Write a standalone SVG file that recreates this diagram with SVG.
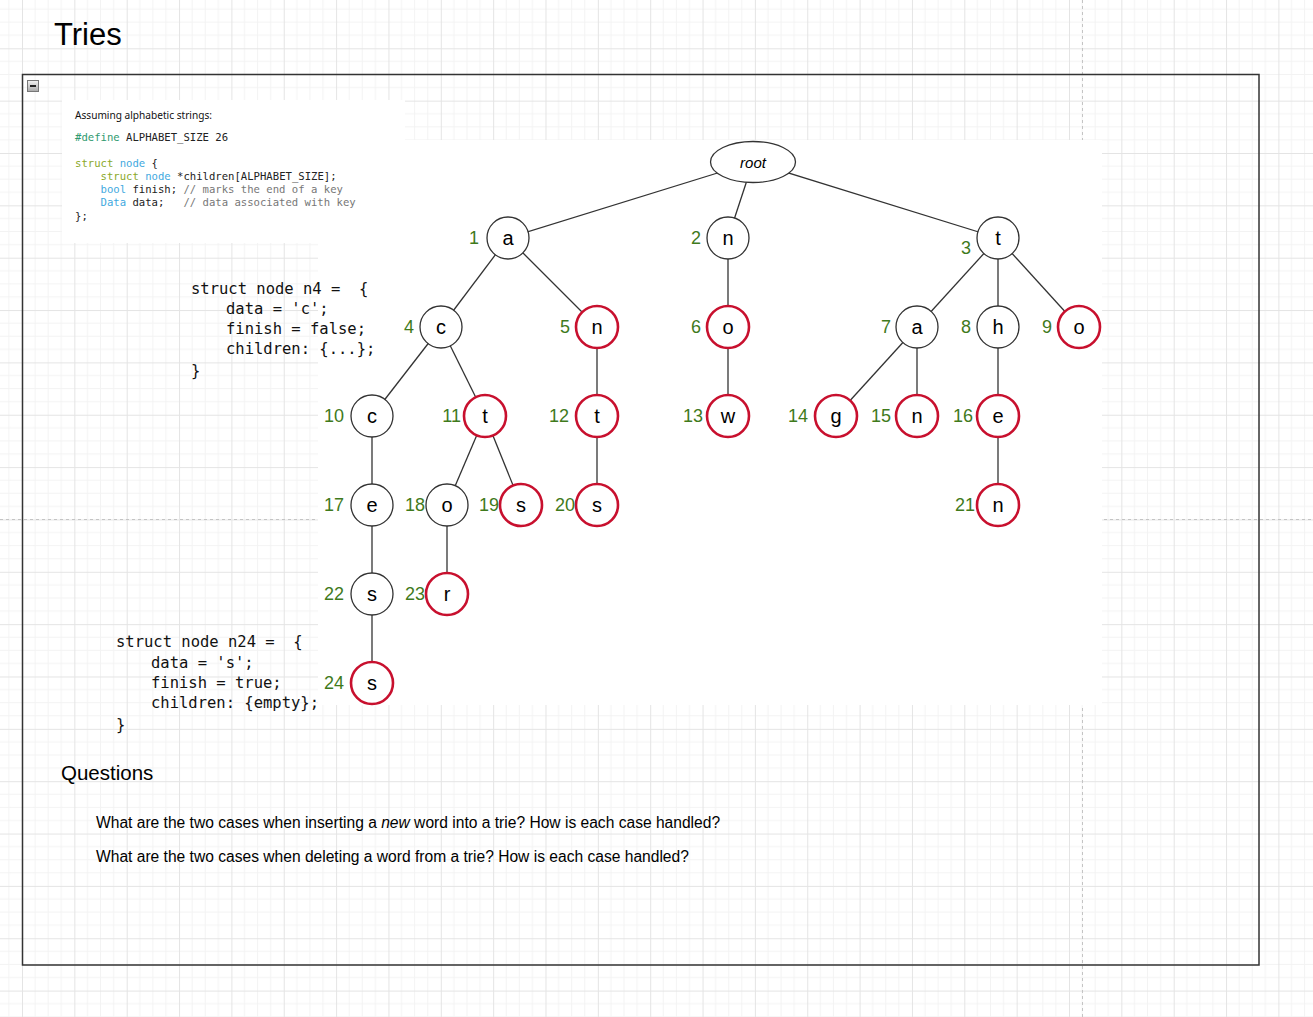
<svg xmlns="http://www.w3.org/2000/svg" width="1313" height="1017" viewBox="0 0 1313 1017">
<defs>
<pattern id="grid" patternUnits="userSpaceOnUse" x="22" y="48.3" width="52.35" height="52.35">
<path d="M13.09 0V52.35M26.18 0V52.35M39.26 0V52.35M0 13.09H52.35M0 26.18H52.35M0 39.26H52.35" stroke="#f3f3f3" stroke-width="1" fill="none"/>
<path d="M0.5 0V52.35M0 0.5H52.35" stroke="#e4e4e4" stroke-width="1" fill="none"/>
</pattern>
<linearGradient id="ig" x1="0" y1="0" x2="0" y2="1">
<stop offset="0" stop-color="#f4f4f4"/><stop offset="1" stop-color="#a8a8a8"/>
</linearGradient>
</defs>
<style>
.blk{fill:#fff;stroke:#333;stroke-width:1.3}
.red{fill:#fff;stroke:#c8102e;stroke-width:2.6}
.lt{font-family:"Liberation Sans",Arial,sans-serif;font-size:20px;fill:#000;text-anchor:middle}
.num{font-family:"Liberation Sans",Arial,sans-serif;font-size:18px;fill:#3f7a1c;text-anchor:end}
.edge line{stroke:#333;stroke-width:1.3}
.code{font-family:"DejaVu Sans Mono","Liberation Mono",monospace;font-size:10.6px;fill:#222;white-space:pre}
.kw{fill:#8aa82a}.ty{fill:#3fa9e0}.cm{fill:#777}.pp{fill:#2f9a6f}
.mono{font-family:"DejaVu Sans Mono","Liberation Mono",monospace;font-size:15.5px;fill:#111;white-space:pre}
.sans{font-family:"Liberation Sans",Arial,sans-serif;fill:#000}
</style>
<rect width="1313" height="1017" fill="#fff"/>
<rect width="1313" height="1017" fill="url(#grid)"/>
<g stroke="#c4c4c4" stroke-width="1" stroke-dasharray="3 3">
<line x1="0" y1="519.5" x2="1313" y2="519.5"/>
<line x1="1082.5" y1="0" x2="1082.5" y2="1017"/>
</g>
<rect x="318" y="140" width="784" height="565" fill="#fff"/>
<text class="sans" x="54" y="45" font-size="31">Tries</text>
<g id="container">
<rect x="22.5" y="74.5" width="1236.5" height="890.5" fill="none" stroke="#333" stroke-width="1.5"/>
<rect x="27.5" y="80.5" width="11" height="11" fill="url(#ig)" stroke="#777" stroke-width="1"/>
<rect x="30" y="85" width="6" height="2" fill="#222"/>
</g>
<g id="code-block">
<rect x="62" y="100" width="343" height="143" fill="#fff"/>
<text x="75" y="119" font-family="'Noto Sans','Open Sans',sans-serif" font-size="10" fill="#111" textLength="137" lengthAdjust="spacingAndGlyphs">Assuming alphabetic strings:</text>
<text class="code" x="75" y="141"><tspan class="pp">#define</tspan> ALPHABET_SIZE 26</text>
<text class="code" x="75" y="167"><tspan class="kw">struct</tspan> <tspan class="ty">node</tspan> {</text>
<text class="code" x="75" y="180">    <tspan class="kw">struct</tspan> <tspan class="ty">node</tspan> *children[ALPHABET_SIZE];</text>
<text class="code" x="75" y="193">    <tspan class="ty">bool</tspan> finish; <tspan class="cm">// marks the end of a key</tspan></text>
<text class="code" x="75" y="206">    <tspan class="ty">Data</tspan> data;   <tspan class="cm">// data associated with key</tspan></text>
<text class="code" x="75" y="220">};</text>
</g>
<g id="struct-n4">
<text class="mono" x="191" y="294">struct node n4 =  {</text>
<text class="mono" x="226" y="314">data = 'c';</text>
<text class="mono" x="226" y="334">finish = false;</text>
<text class="mono" x="226" y="354">children: {...};</text>
<text class="mono" x="191" y="376">}</text>
</g>
<g id="struct-n24">
<text class="mono" x="116" y="647">struct node n24 =  {</text>
<text class="mono" x="151" y="668">data = 's';</text>
<text class="mono" x="151" y="688">finish = true;</text>
<text class="mono" x="151" y="708">children: {empty};</text>
<text class="mono" x="116" y="730">}</text>
</g>
<g id="connectors" class="edge">
<line x1="753" y1="162" x2="508" y2="238"/>
<line x1="753" y1="162" x2="728" y2="238"/>
<line x1="753" y1="162" x2="998" y2="238"/>
<line x1="508" y1="238" x2="441" y2="327"/>
<line x1="508" y1="238" x2="597" y2="327"/>
<line x1="728" y1="238" x2="728" y2="327"/>
<line x1="998" y1="238" x2="917" y2="327"/>
<line x1="998" y1="238" x2="998" y2="327"/>
<line x1="998" y1="238" x2="1079" y2="327"/>
<line x1="441" y1="327" x2="372" y2="416"/>
<line x1="441" y1="327" x2="485" y2="416"/>
<line x1="597" y1="327" x2="597" y2="416"/>
<line x1="728" y1="327" x2="728" y2="416"/>
<line x1="917" y1="327" x2="836" y2="416"/>
<line x1="917" y1="327" x2="917" y2="416"/>
<line x1="998" y1="327" x2="998" y2="416"/>
<line x1="372" y1="416" x2="372" y2="505"/>
<line x1="485" y1="416" x2="447" y2="505"/>
<line x1="485" y1="416" x2="521" y2="505"/>
<line x1="597" y1="416" x2="597" y2="505"/>
<line x1="998" y1="416" x2="998" y2="505"/>
<line x1="372" y1="505" x2="372" y2="594"/>
<line x1="447" y1="505" x2="447" y2="594"/>
<line x1="372" y1="594" x2="372" y2="683"/>
</g>
<g id="root"><ellipse cx="753" cy="162" rx="42.5" ry="20.5" class="blk"/><text x="753" y="167.5" font-family="'Liberation Sans',Arial,sans-serif" font-size="15" font-style="italic" text-anchor="middle">root</text></g>
<g id="n1"><circle cx="508" cy="238" r="21" class="blk"/><text class="lt" x="508" y="245">a</text><text class="num" x="479" y="244">1</text></g>
<g id="n2"><circle cx="728" cy="238" r="21" class="blk"/><text class="lt" x="728" y="245">n</text><text class="num" x="701" y="244">2</text></g>
<g id="n3"><circle cx="998" cy="238" r="21" class="blk"/><text class="lt" x="998" y="245">t</text><text class="num" x="971" y="254">3</text></g>
<g id="n4"><circle cx="441" cy="327" r="21" class="blk"/><text class="lt" x="441" y="334">c</text><text class="num" x="414" y="333">4</text></g>
<g id="n5"><circle cx="597" cy="327" r="21" class="red"/><text class="lt" x="597" y="334">n</text><text class="num" x="570" y="333">5</text></g>
<g id="n6"><circle cx="728" cy="327" r="21" class="red"/><text class="lt" x="728" y="334">o</text><text class="num" x="701" y="333">6</text></g>
<g id="n7"><circle cx="917" cy="327" r="21" class="blk"/><text class="lt" x="917" y="334">a</text><text class="num" x="891" y="333">7</text></g>
<g id="n8"><circle cx="998" cy="327" r="21" class="blk"/><text class="lt" x="998" y="334">h</text><text class="num" x="971" y="333">8</text></g>
<g id="n9"><circle cx="1079" cy="327" r="21" class="red"/><text class="lt" x="1079" y="334">o</text><text class="num" x="1052" y="333">9</text></g>
<g id="n10"><circle cx="372" cy="416" r="21" class="blk"/><text class="lt" x="372" y="423">c</text><text class="num" x="344" y="422">10</text></g>
<g id="n11"><circle cx="485" cy="416" r="21" class="red"/><text class="lt" x="485" y="423">t</text><text class="num" x="461" y="422">11</text></g>
<g id="n12"><circle cx="597" cy="416" r="21" class="red"/><text class="lt" x="597" y="423">t</text><text class="num" x="569" y="422">12</text></g>
<g id="n13"><circle cx="728" cy="416" r="21" class="red"/><text class="lt" x="728" y="423">w</text><text class="num" x="703" y="422">13</text></g>
<g id="n14"><circle cx="836" cy="416" r="21" class="red"/><text class="lt" x="836" y="423">g</text><text class="num" x="808" y="422">14</text></g>
<g id="n15"><circle cx="917" cy="416" r="21" class="red"/><text class="lt" x="917" y="423">n</text><text class="num" x="891" y="422">15</text></g>
<g id="n16"><circle cx="998" cy="416" r="21" class="red"/><text class="lt" x="998" y="423">e</text><text class="num" x="973" y="422">16</text></g>
<g id="n17"><circle cx="372" cy="505" r="21" class="blk"/><text class="lt" x="372" y="512">e</text><text class="num" x="344" y="511">17</text></g>
<g id="n18"><circle cx="447" cy="505" r="21" class="blk"/><text class="lt" x="447" y="512">o</text><text class="num" x="425" y="511">18</text></g>
<g id="n19"><circle cx="521" cy="505" r="21" class="red"/><text class="lt" x="521" y="512">s</text><text class="num" x="499" y="511">19</text></g>
<g id="n20"><circle cx="597" cy="505" r="21" class="red"/><text class="lt" x="597" y="512">s</text><text class="num" x="575" y="511">20</text></g>
<g id="n21"><circle cx="998" cy="505" r="21" class="red"/><text class="lt" x="998" y="512">n</text><text class="num" x="975" y="511">21</text></g>
<g id="n22"><circle cx="372" cy="594" r="21" class="blk"/><text class="lt" x="372" y="601">s</text><text class="num" x="344" y="600">22</text></g>
<g id="n23"><circle cx="447" cy="594" r="21" class="red"/><text class="lt" x="447" y="601">r</text><text class="num" x="425" y="600">23</text></g>
<g id="n24"><circle cx="372" cy="683" r="21" class="red"/><text class="lt" x="372" y="690">s</text><text class="num" x="344" y="689">24</text></g>
<g id="questions">
<text class="sans" x="61" y="780" font-size="20.5">Questions</text>
<text class="sans" x="96" y="828" font-size="15.6">What are the two cases when inserting a <tspan font-style="italic">new</tspan> word into a trie? How is each case handled?</text>
<text class="sans" x="96" y="862" font-size="15.6">What are the two cases when deleting a word from a trie? How is each case handled?</text>
</g>
</svg>
